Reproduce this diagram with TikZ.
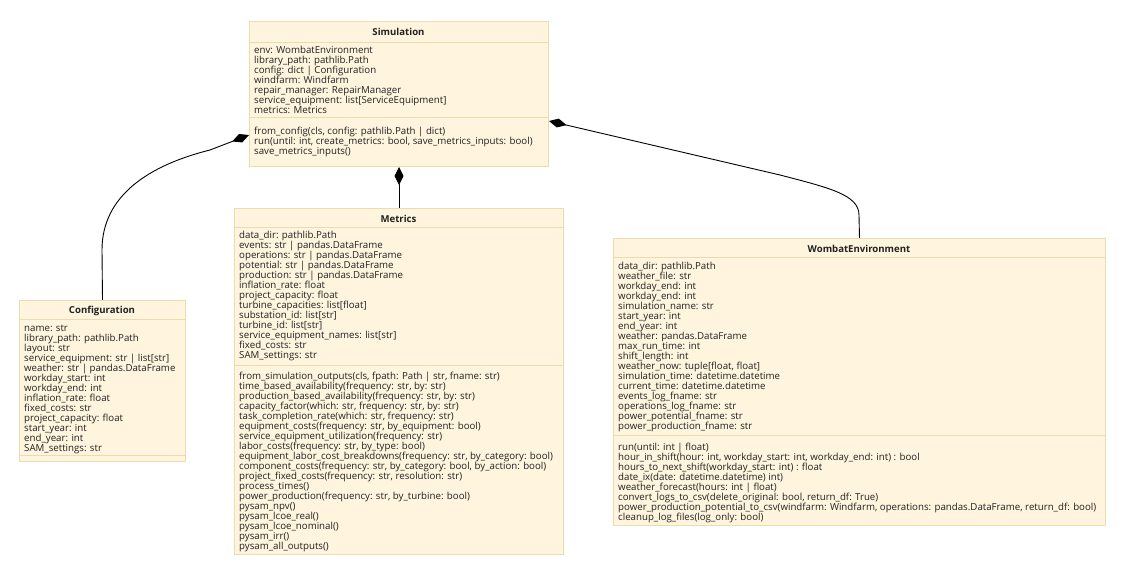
\documentclass[tikz,border=0pt]{standalone}
\usepackage{fontspec}
\setmainfont{Open Sans}
\usetikzlibrary{arrows.meta}
\definecolor{umlfill}{HTML}{FFF4DD}
\definecolor{umlborder}{HTML}{EBDCAE}
\definecolor{umltext}{HTML}{222222}
\begin{document}
\begin{tikzpicture}[x=1pt,y=-1pt,
  classbox/.style={draw=umlborder, fill=umlfill, line width=1pt, anchor=north west, inner sep=0pt},
  divider/.style={draw=umlborder, line width=1pt},
  classtitle/.style={font=\bfseries\fontsize{9.6}{10}\selectfont, text=umltext, inner sep=0pt},
  members/.style={font=\fontsize{9.7}{10}\selectfont, text=umltext, align=left, anchor=north west, inner sep=0pt},
  compose/.style={draw=black, line width=0.9pt, -{Diamond[length=18pt,width=9pt,fill=black]}}
]
\useasboundingbox (0,0) rectangle (1133,577);

% ---------- Simulation ----------
\node[classbox, minimum width=299pt, minimum height=145pt] (sim) at (249,21) {};
\draw[divider] (249,43) -- (548,43);
\draw[divider] (249,118) -- (548,118);
\node[classtitle] (simT) at (398.5,32) {Simulation};
\node[members] (simA) at (254,46) {env: WombatEnvironment\\
library\_path: pathlib.Path\\
config: dict | Configuration\\
windfarm: Windfarm\\
repair\_manager: RepairManager\\
service\_equipment: list[ServiceEquipment]\\
metrics: Metrics};
\node[members] (simM) at (254,127) {from\_config(cls, config: pathlib.Path | dict)\\
run(until: int, create\_metrics: bool, save\_metrics\_inputs: bool)\\
save\_metrics\_inputs()};

% ---------- Configuration ----------
\node[classbox, minimum width=166pt, minimum height=161pt] (cfg) at (19,300) {};
\draw[divider] (19,320) -- (185,320);
\draw[divider] (19,455) -- (185,455);
\node[classtitle] (cfgT) at (102,311) {Configuration};
\node[members] (cfgA) at (24,324.5) {name: str\\
library\_path: pathlib.Path\\
layout: str\\
service\_equipment: str | list[str]\\
weather: str | pandas.DataFrame\\
workday\_start: int\\
workday\_end: int\\
inflation\_rate: float\\
fixed\_costs: str\\
project\_capacity: float\\
start\_year: int\\
end\_year: int\\
SAM\_settings: str};

% ---------- Metrics ----------
\node[classbox, minimum width=329pt, minimum height=346pt] (met) at (234,208) {};
\draw[divider] (234,228) -- (563,228);
\draw[divider] (234,366) -- (563,366);
\node[classtitle] (metT) at (398.5,219) {Metrics};
\node[members] (metA) at (239,231) {data\_dir: pathlib.Path\\
events: str | pandas.DataFrame\\
operations: str | pandas.DataFrame\\
potential: str | pandas.DataFrame\\
production: str | pandas.DataFrame\\
inflation\_rate: float\\
project\_capacity: float\\
turbine\_capacities: list[float]\\
substation\_id: list[str]\\
turbine\_id: list[str]\\
service\_equipment\_names: list[str]\\
fixed\_costs: str\\
SAM\_settings: str};
\node[members] (metM) at (239,372) {from\_simulation\_outputs(cls, fpath: Path | str, fname: str)\\
time\_based\_availability(frequency: str, by: str)\\
production\_based\_availability(frequency: str, by: str)\\
capacity\_factor(which: str, frequency: str, by: str)\\
task\_completion\_rate(which: str, frequency: str)\\
equipment\_costs(frequency: str, by\_equipment: bool)\\
service\_equipment\_utilization(frequency: str)\\
labor\_costs(frequency: str, by\_type: bool)\\
equipment\_labor\_cost\_breakdowns(frequency: str, by\_category: bool)\\
component\_costs(frequency: str, by\_category: bool, by\_action: bool)\\
project\_fixed\_costs(frequency: str, resolution: str)\\
process\_times()\\
power\_production(frequency: str, by\_turbine: bool)\\
pysam\_npv()\\
pysam\_lcoe\_real()\\
pysam\_lcoe\_nominal()\\
pysam\_irr()\\
pysam\_all\_outputs()};

% ---------- WombatEnvironment ----------
\node[classbox, minimum width=492pt, minimum height=287pt] (wenv) at (613,238) {};
\draw[divider] (613,258) -- (1105,258);
\draw[divider] (613,435) -- (1105,435);
\node[classtitle] (wenvT) at (859,249) {WombatEnvironment};
\node[members] (wenvA) at (618,262) {data\_dir: pathlib.Path\\
weather\_file: str\\
workday\_end: int\\
workday\_end: int\\
simulation\_name: str\\
start\_year: int\\
end\_year: int\\
weather: pandas.DataFrame\\
max\_run\_time: int\\
shift\_length: int\\
weather\_now: tuple[float, float]\\
simulation\_time: datetime.datetime\\
current\_time: datetime.datetime\\
events\_log\_fname: str\\
operations\_log\_fname: str\\
power\_potential\_fname: str\\
power\_production\_fname: str};
\node[members] (wenvM) at (618,443) {run(until: int | float)\\
hour\_in\_shift(hour: int, workday\_start: int, workday\_end: int) : bool\\
hours\_to\_next\_shift(workday\_start: int) : float\\
date\_ix(date: datetime.datetime) int)\\
weather\_forecast(hours: int | float)\\
convert\_logs\_to\_csv(delete\_original: bool, return\_df: True)\\
power\_production\_potential\_to\_csv(windfarm: Windfarm, operations: pandas.DataFrame, return\_df: bool)\\
cleanup\_log\_files(log\_only: bool)};

% ---------- composition links ----------
\coordinate (simCfg) at ([yshift=32pt]sim.south west);
\coordinate (simEnv) at ([yshift=46pt]sim.south east);
\draw[compose] (cfg.north) -- (102,250) .. controls (102,195) and (150,165) .. (210,150) -- (simCfg);
\draw[compose] (met.north) -- (sim.south);
\draw[compose] (wenv.north) -- (859,215) .. controls (859,195) and (830,188) .. (780,175) -- (simEnv);
\end{tikzpicture}
\end{document}
